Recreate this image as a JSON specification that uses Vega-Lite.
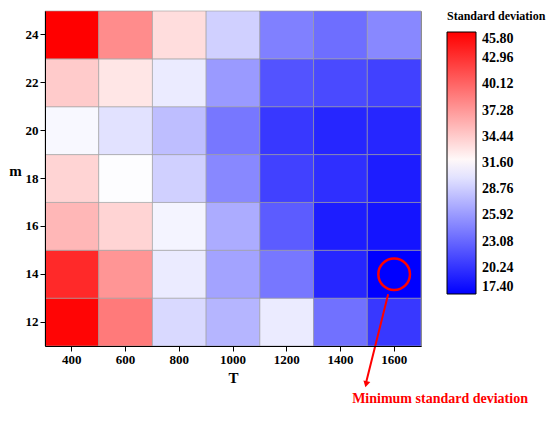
{
  "$schema": "https://vega.github.io/schema/vega-lite/v6.json",
  "width": 376,
  "height": 335,
  "padding": {"left": 8, "right": 2, "top": 10, "bottom": 4},
  "background": "white",
  "config": {
    "font": "Liberation Serif",
    "view": {"stroke": "#888"},
    "axis": {"labelFont": "Liberation Serif", "labelFontWeight": "bold", "labelFontSize": 13, "labelColor": "black", "titleFont": "Liberation Serif", "titleFontWeight": "bold", "titleFontSize": 15, "titleColor": "black", "domainColor": "black", "tickColor": "black"},
    "legend": {"labelFont": "Liberation Serif", "labelFontWeight": "bold", "labelFontSize": 14, "labelColor": "black", "titleFont": "Liberation Serif", "titleFontWeight": "bold", "titleFontSize": 12, "titleColor": "black"}
  },
  "data": {"values": [
    {"T": 400, "m": 12, "sd": 45.5}, {"T": 400, "m": 14, "sd": 43.5}, {"T": 400, "m": 16, "sd": 35.6}, {"T": 400, "m": 18, "sd": 34.0}, {"T": 400, "m": 20, "sd": 31.2}, {"T": 400, "m": 22, "sd": 34.5}, {"T": 400, "m": 24, "sd": 45.8},
    {"T": 600, "m": 12, "sd": 39.0}, {"T": 600, "m": 14, "sd": 37.5}, {"T": 600, "m": 16, "sd": 34.0}, {"T": 600, "m": 18, "sd": 31.5}, {"T": 600, "m": 20, "sd": 30.0}, {"T": 600, "m": 22, "sd": 33.0}, {"T": 600, "m": 24, "sd": 38.0},
    {"T": 800, "m": 12, "sd": 29.5}, {"T": 800, "m": 14, "sd": 30.5}, {"T": 800, "m": 16, "sd": 31.0}, {"T": 800, "m": 18, "sd": 29.0}, {"T": 800, "m": 20, "sd": 28.0}, {"T": 800, "m": 22, "sd": 30.5}, {"T": 800, "m": 24, "sd": 33.5},
    {"T": 1000, "m": 12, "sd": 27.5}, {"T": 1000, "m": 14, "sd": 26.5}, {"T": 1000, "m": 16, "sd": 27.0}, {"T": 1000, "m": 18, "sd": 25.0}, {"T": 1000, "m": 20, "sd": 24.0}, {"T": 1000, "m": 22, "sd": 26.0}, {"T": 1000, "m": 24, "sd": 29.0},
    {"T": 1200, "m": 12, "sd": 30.5}, {"T": 1200, "m": 14, "sd": 24.0}, {"T": 1200, "m": 16, "sd": 22.5}, {"T": 1200, "m": 18, "sd": 21.0}, {"T": 1200, "m": 20, "sd": 20.5}, {"T": 1200, "m": 22, "sd": 22.0}, {"T": 1200, "m": 24, "sd": 24.5},
    {"T": 1400, "m": 12, "sd": 23.7}, {"T": 1400, "m": 14, "sd": 19.5}, {"T": 1400, "m": 16, "sd": 19.0}, {"T": 1400, "m": 18, "sd": 20.0}, {"T": 1400, "m": 20, "sd": 19.5}, {"T": 1400, "m": 22, "sd": 21.5}, {"T": 1400, "m": 24, "sd": 23.5},
    {"T": 1600, "m": 12, "sd": 20.5}, {"T": 1600, "m": 14, "sd": 17.4}, {"T": 1600, "m": 16, "sd": 18.5}, {"T": 1600, "m": 18, "sd": 19.0}, {"T": 1600, "m": 20, "sd": 19.5}, {"T": 1600, "m": 22, "sd": 21.0}, {"T": 1600, "m": 24, "sd": 25.0}
  ]},
  "encoding": {
    "x": {"field": "T", "type": "ordinal", "title": "T", "axis": {"labelAngle": 0, "titlePadding": 4}},
    "y": {"field": "m", "type": "ordinal", "sort": "descending", "title": "m", "axis": {"titleAngle": 0, "titlePadding": 10}}
  },
  "layer": [
    {
      "mark": {"type": "rect", "stroke": "#9a9a9a", "strokeWidth": 0.6},
      "encoding": {
        "color": {
          "field": "sd", "type": "quantitative",
          "title": "Standard deviation",
          "scale": {"domain": [17.4, 31.6, 45.8], "range": ["#0000ff", "#ffffff", "#ff0000"], "interpolate": "rgb"},
          "legend": {"values": [17.4, 20.24, 23.08, 25.92, 28.76, 31.6, 34.44, 37.28, 40.12, 42.96, 45.8], "format": ".2f", "gradientLength": 262, "gradientThickness": 29, "gradientStrokeColor": "black", "gradientStrokeWidth": 1, "titlePadding": 9, "labelOffset": 6, "offset": 26}
        }
      }
    },
    {
      "transform": [{"filter": "datum.sd == 17.4"}],
      "mark": {"type": "rule", "color": "#ff0000", "strokeWidth": 2, "xOffset": -6, "yOffset": 20, "x2Offset": -28, "y2Offset": 108},
      "encoding": {"x2": {"field": "T"}, "y2": {"field": "m"}}
    },
    {
      "transform": [{"filter": "datum.sd == 17.4"}],
      "mark": {"type": "point", "shape": "triangle-down", "filled": true, "color": "#ff0000", "size": 50, "opacity": 1, "angle": 14, "xOffset": -28, "yOffset": 110}
    },
    {
      "transform": [{"filter": "datum.sd == 17.4"}],
      "mark": {"type": "point", "shape": "circle", "filled": false, "stroke": "#ff0000", "strokeWidth": 2.5, "size": 1000, "opacity": 1}
    },
    {
      "transform": [{"filter": "datum.sd == 17.4"}],
      "mark": {"type": "text", "text": "Minimum standard deviation", "color": "#ff0000", "font": "Liberation Serif", "fontWeight": "bold", "fontSize": 14, "align": "left", "baseline": "middle", "dy": 125, "dx": -42}
    }
  ]
}
